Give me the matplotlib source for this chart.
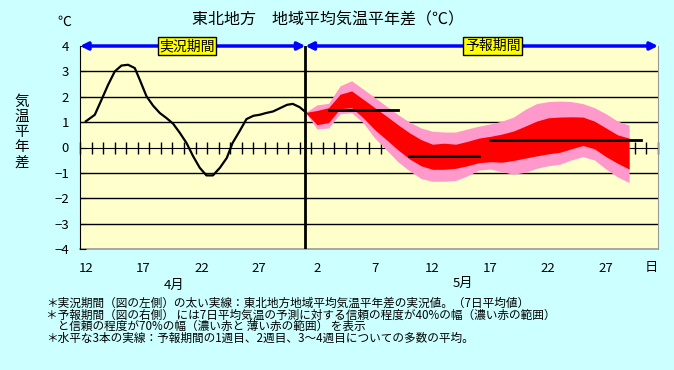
import numpy as np
import matplotlib
matplotlib.use('Agg')
import matplotlib.pyplot as plt
import matplotlib.transforms as mtransforms

plt.rcParams['font.family'] = ['Noto Sans CJK JP', 'DejaVu Sans']

# day index: 0 = Apr 12, 19 = May 1
obs_day = [0, 0.78, 1.36, 1.93, 2.51, 3.09, 3.66, 4.24, 4.67, 5.25, 5.82, 6.4, 6.98,
           7.55, 8.13, 8.71, 9.28, 9.86, 10.44, 11.0, 11.6, 12.2, 12.7, 13.3, 13.9,
           14.5, 15.05, 15.6, 16.2, 16.8, 17.4, 17.9, 18.5, 19.0]
obs_val = [1.03, 1.29, 1.88, 2.47, 3.0, 3.23, 3.26, 3.13, 2.67, 2.02, 1.65, 1.36, 1.16,
           0.94, 0.58, 0.18, -0.34, -0.80, -1.10, -1.10, -0.80, -0.41, 0.18, 0.64, 1.12,
           1.25, 1.29, 1.36, 1.42, 1.55, 1.68, 1.72, 1.59, 1.40]

fc_day = list(range(19, 48))
pink_hi = [1.38, 1.68, 1.74, 2.43, 2.63, 2.30, 1.97, 1.63, 1.30, 1.00, 0.77, 0.64, 0.61, 0.61,
           0.73, 0.84, 0.93, 1.04, 1.20, 1.50, 1.73, 1.81, 1.83, 1.81, 1.73, 1.57, 1.33, 1.04, 0.88]
red_hi = [1.38, 1.46, 1.57, 2.10, 2.23, 1.90, 1.57, 1.24, 0.90, 0.58, 0.31, 0.13, 0.17, 0.13,
          0.24, 0.37, 0.44, 0.53, 0.65, 0.84, 1.04, 1.17, 1.20, 1.21, 1.20, 1.04, 0.77, 0.50, 0.37]
red_lo = [1.38, 0.90, 0.98, 1.53, 1.57, 1.17, 0.70, 0.31, -0.09, -0.45, -0.72, -0.86, -0.86, -0.82,
          -0.72, -0.60, -0.56, -0.58, -0.51, -0.42, -0.33, -0.25, -0.19, -0.05, 0.08, -0.05, -0.36, -0.62, -0.85]
pink_lo = [1.38, 0.73, 0.77, 1.33, 1.37, 0.97, 0.37, -0.09, -0.56, -0.92, -1.22, -1.33, -1.33, -1.30,
           -1.12, -0.89, -0.85, -0.96, -1.05, -0.98, -0.82, -0.72, -0.66, -0.49, -0.36, -0.49, -0.85, -1.16, -1.38]

mean_start = [21, 28, 35]
mean_end = [27, 34, 48]
mean_val = [1.48, -0.32, 0.29]

xtick_pos = [0, 5, 10, 15, 20, 25, 30, 35, 40, 45]
xtick_lab = ['12', '17', '22', '27', '2', '7', '12', '17', '22', '27']
yticks = [-4, -3, -2, -1, 0, 1, 2, 3, 4]

notes = ['＊実況期間（図の左側）の太い実線：東北地方地域平均気温平年差の実況値。（7日平均値）',
         '＊予報期間（図の右側） には7日平均気温の予測に対する信頼の程度が40%の幅（濃い赤の範囲）',
         '　と信頼の程度が70%の幅（濃い赤と 薄い赤の範囲） を表示',
         '＊水平な3本の実線：予報期間の1週目、2週目、3～4週目についての多数の平均。']

W, H = 674, 370
fig = plt.figure(figsize=(W / 100, H / 100), dpi=100, facecolor='#CCFFFF')
ax = fig.add_axes([80 / W, 1 - 249 / H, 578 / W, 203 / H], facecolor='#FFFFCC')
ax.set_xlim(-0.5, 49.5)
ax.set_ylim(-4, 4)

for v in [-3, -2, -1, 1, 2, 3]:
    ax.axhline(v, color='black', lw=1, zorder=1)

# category axis crossing at zero
ax.spines['bottom'].set_position(('data', 0))
ax.spines['bottom'].set_zorder(1)
ax.spines['top'].set_visible(False)
ax.spines['right'].set_color('#999999')
ax.axhline(-4, color='#999999', lw=1.2, clip_on=False, zorder=1)
ax.set_xticks([])
ax.set_xticks(np.arange(-0.5, 49.6, 1), minor=True)
ax.tick_params(axis='x', which='minor', direction='inout', length=9, width=1, labelbottom=False)
ax.set_yticks(yticks)
ax.set_yticklabels([str(v).replace('-', '−') for v in yticks], fontsize=9.5)
ax.tick_params(axis='y', direction='in', length=4, pad=8)

ax.fill_between(fc_day, pink_lo, pink_hi, color='#FF99CC', lw=0, zorder=2)
ax.fill_between(fc_day, red_lo, red_hi, color='#FF0000', lw=0, zorder=3)
ax.plot(obs_day, obs_val, color='black', lw=1.6, zorder=4)
for s, e, v in zip(mean_start, mean_end, mean_val):
    ax.plot([s, e], [v, v], color='black', lw=2, zorder=5)

ax.axvline(19, color='black', lw=2, zorder=5)

# period arrows
for a, b in [(-0.5, 19), (19, 49.5)]:
    ax.annotate('', xy=(a, 4), xytext=(b, 4),
                arrowprops=dict(arrowstyle='<|-|>', color='#0000FF', lw=2.5,
                                mutation_scale=11, shrinkA=0, shrinkB=0),
                annotation_clip=False, zorder=6)
box = dict(boxstyle='square,pad=0.12', facecolor='#FFFF00', edgecolor='black', lw=1)
ax.text(8.75, 4, '実況期間', ha='center', va='center', fontsize=10, bbox=box, zorder=7)
ax.text(35.2, 4, '予報期間', ha='center', va='center', fontsize=10, bbox=box, zorder=7)

trans = mtransforms.blended_transform_factory(ax.transData, fig.transFigure)
for p, l in zip(xtick_pos, xtick_lab):
    ax.text(p, 1 - 269 / H, l, ha='center', va='center', fontsize=9.5, transform=trans)
ax.text(48.9, 1 - 268 / H, '日', ha='center', va='center', fontsize=9.5, transform=trans)
ax.text(7.6, 1 - 285 / H, '4月', ha='center', va='center', fontsize=9.5, transform=trans)
ax.text(32.6, 1 - 283 / H, '5月', ha='center', va='center', fontsize=9.5, transform=trans)

fig.text(328 / W, 1 - 20 / H, '東北地方　地域平均気温平年差（℃）', ha='center', va='center', fontsize=11.5)
fig.text(64 / W, 1 - 22 / H, '℃', ha='center', va='center', fontsize=10)
fig.text(22 / W, 1 - 132 / H, '\n'.join('気温平年差'), ha='center', va='center',
         fontsize=10.5, linespacing=1.1)

# notes as one block
fig.text(46 / W, 1 - 297 / H, '\n'.join(notes), ha='left', va='top', fontsize=8.4,
         linespacing=0.85)

fig.savefig('out.png', dpi=100, facecolor=fig.get_facecolor())
